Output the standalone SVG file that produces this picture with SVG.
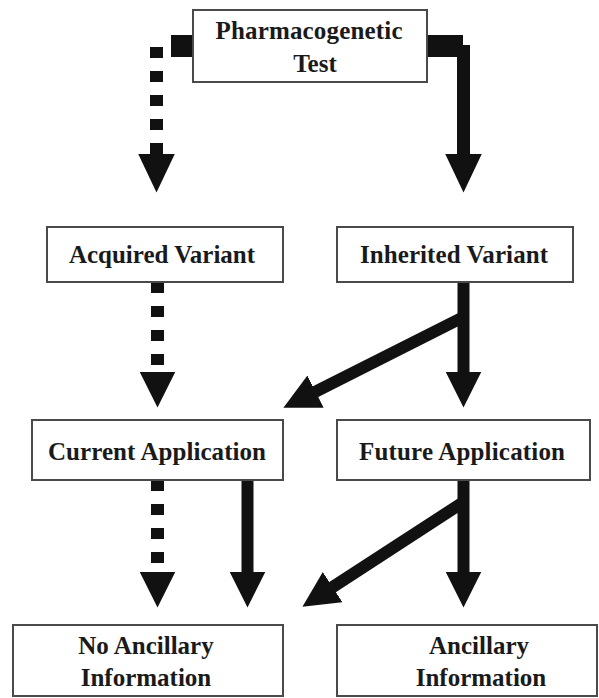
<svg xmlns="http://www.w3.org/2000/svg" width="599" height="698" viewBox="0 0 599 698">
<style>
.box{fill:#fff;stroke:#4a4a4a;stroke-width:2}
.t{font-family:"Liberation Serif","Times New Roman",serif;font-weight:bold;font-size:25px;fill:#1a1a1a;text-anchor:middle}
.solid{fill:none;stroke:#111;stroke-width:12}
.dash{fill:none;stroke:#111;stroke-width:13;stroke-dasharray:11 13}
.stub{fill:#111}
</style>
<defs>
<marker id="ah" viewBox="0 0 36 36" markerWidth="36" markerHeight="36" refX="0.5" refY="18" orient="auto" markerUnits="userSpaceOnUse"><path d="M0,0 L36,18 L0,36 z" fill="#111"/></marker>
<marker id="ahT" viewBox="0 0 39 37" markerWidth="39" markerHeight="37" refX="0.5" refY="18.5" orient="auto" markerUnits="userSpaceOnUse"><path d="M0,0 L39,18.5 L0,37 z" fill="#111"/></marker>
</defs>
<g id="connectors">
<rect class="stub" x="171" y="35" width="22" height="22"/>
<path class="dash" d="M156.5,47 V154" marker-end="url(#ahT)"/>
<rect class="stub" x="427" y="35" width="36" height="22"/>
<path class="solid" d="M463.5,45 V154" style="stroke-width:13" marker-end="url(#ahT)"/>
<path class="dash" d="M157.5,282 V372" marker-end="url(#ah)"/>
<path class="solid" d="M463.5,282 V372" marker-end="url(#ah)"/>
<path class="solid" d="M463.5,317 L315.1,391.8" marker-end="url(#ah)"/>
<path class="dash" d="M157.5,480 V572" marker-end="url(#ah)"/>
<path class="solid" d="M247.5,480 V572" marker-end="url(#ah)"/>
<path class="solid" d="M463.5,480 V572" marker-end="url(#ah)"/>
<path class="solid" d="M463.5,502 L332.2,587.4" marker-end="url(#ah)"/>
</g>
<g id="pharmacogenetic-test">
<rect class="box" x="193" y="10" width="234" height="72"/>
<text class="t" x="309" y="39" textLength="187" lengthAdjust="spacing">Pharmacogenetic</text>
<text class="t" x="315" y="72">Test</text>
</g>
<g id="acquired-variant">
<rect class="box" x="47" y="227" width="236" height="55"/>
<text class="t" x="162" y="263" textLength="186" lengthAdjust="spacing">Acquired Variant</text>
</g>
<g id="inherited-variant">
<rect class="box" x="337" y="227" width="236" height="55"/>
<text class="t" x="454" y="263" textLength="188" lengthAdjust="spacing">Inherited Variant</text>
</g>
<g id="current-application">
<rect class="box" x="32" y="420" width="251" height="60"/>
<text class="t" x="157" y="460" textLength="218" lengthAdjust="spacing">Current Application</text>
</g>
<g id="future-application">
<rect class="box" x="337" y="420" width="253" height="60"/>
<text class="t" x="462" y="460" textLength="206" lengthAdjust="spacing">Future Application</text>
</g>
<g id="no-ancillary-information">
<rect class="box" x="13" y="625" width="270" height="71"/>
<text class="t" x="146" y="654">No Ancillary</text>
<text class="t" x="146" y="686">Information</text>
</g>
<g id="ancillary-information">
<rect class="box" x="337" y="625" width="260" height="71"/>
<text class="t" x="479" y="654">Ancillary</text>
<text class="t" x="481" y="686">Information</text>
</g>
</svg>
